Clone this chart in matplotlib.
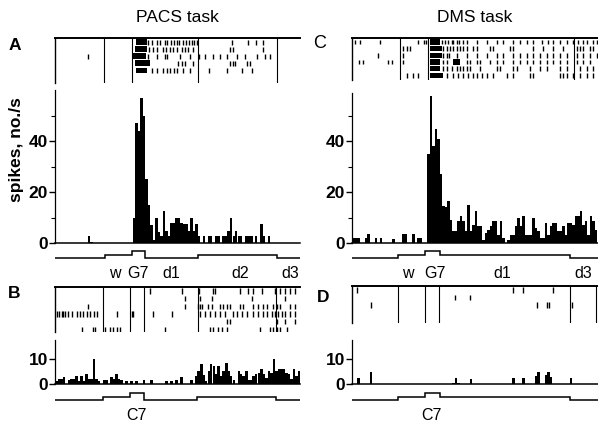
import matplotlib
matplotlib.use('Agg')
import matplotlib.pyplot as plt
import numpy as np

plt.rcParams['font.family'] = ['Liberation Sans', 'DejaVu Sans']

# ------------------------------------------------------------
# data (time in s from left edge of each panel, bins of 0.1 s)
# ------------------------------------------------------------
BIN = 0.1

pacs_g7_rate = [0, 0, 0, 0, 0, 0, 0, 0, 0, 0,
                0, 0, 0, 2.6, 0.5, 0, 0, 0, 0, 0,
                0, 0, 0, 0, 0, 0, 0, 0, 0, 0,
                0, 10, 47, 44, 57, 50, 25, 15, 7, 1,
                9.8, 4.5, 2.6, 12.4, 4.6, 2.6, 7.8, 7.8, 10, 10,
                7.8, 7.6, 7.6, 4.6, 10, 4.6, 7.4, 2.6, 0, 2.6,
                0, 2.6, 2.6, 0, 2.6, 2.6, 0, 2.6, 2.6, 4.8,
                10, 2.6, 4.8, 2.6, 2.6, 0, 2.6, 2.6, 2.6, 0,
                2.6, 0, 7.4, 2.6, 0, 2.6, 0, 0, 0, 0,
                0, 0, 0, 0, 0, 0, 0, 0]

dms_g7_rate = [2, 2, 2, 0, 0, 2, 3.7, 0, 0, 2,
               0, 2, 0, 0, 0, 0, 1.7, 0, 0, 0,
               3.7, 3.7, 0, 0, 3.7, 0, 2, 2, 0, 0,
               35, 58, 38, 45, 41, 27, 14.4, 14, 16.6, 9,
               4.6, 4.6, 8.5, 10.5, 8.5, 4.6, 14.8, 4.6, 7, 12.4,
               6.5, 6.5, 1.3, 4, 5, 6.5, 8.5, 8.5, 3.3, 8.5,
               2, 0, 1.3, 3.3, 3.3, 6.5, 9.8, 6.5, 10.5, 3.3,
               3.3, 3.3, 9.8, 6, 4.6, 2, 2, 8, 3.3, 6.5,
               8, 8, 4.6, 4.6, 6.5, 3.3, 8, 8, 7.2, 10.5,
               10.5, 12.4, 7, 8.5, 3.3, 10.5, 8.5, 5]

pacs_c7_rate = [1.3, 2, 2, 2.6, 0, 1.5, 2, 2, 3, 1,
                3.2, 1, 4, 2, 2, 10, 2, 1.3, 0, 1.5,
                1.5, 0, 2.6, 2, 4, 2, 1.5, 0, 1.3, 0,
                1.3, 0, 1.3, 0, 0, 1.5, 0, 0, 1.5, 0,
                0, 0, 0, 0, 1.3, 0, 1.3, 0, 1.5, 0,
                2.6, 0, 0, 0, 1.5, 0, 3, 5, 8, 3.5,
                1.3, 5, 8, 7, 4, 7, 3, 5, 8.3, 5,
                3, 1.5, 0, 5, 4, 3, 5, 1.5, 1.5, 3,
                4, 4.5, 6, 4, 2.5, 5, 4.5, 10, 5, 6,
                6, 6, 4.5, 4, 2, 6, 3, 5]

dms_c7_rate = [0, 0, 2.2, 0, 0, 0, 0, 4.7, 0, 0,
               0, 0, 0, 0, 0, 0, 0, 0, 0, 0,
               0, 0, 0, 0, 0, 0, 0, 0, 0, 0,
               0, 0, 0, 0, 0, 0, 0, 0, 0, 0,
               0.5, 2.4, 0.5, 0, 0, 0, 0, 2, 0, 0,
               0, 0, 0, 0, 0, 0, 0, 0, 0, 0,
               0, 0, 0, 0, 2.4, 0, 0, 0, 2.4, 0,
               0, 0, 0, 3, 4.7, 0, 0, 3.4, 4.7, 2.6,
               0, 0, 0, 0, 0, 0, 0, 2.4, 0, 0,
               0, 0, 0, 0, 0, 0, 0, 0]

# raster spike times per trial
pacs_g7_spikes = [
    [3.73, 3.87, 4.07, 4.2, 4.4, 4.49, 4.63, 4.76, 4.87, 4.97, 5.11, 5.24, 5.37, 5.47, 5.56, 5.67, 7.07, 7.73, 8.04, 8.33],
    [3.77, 3.93, 4.07, 4.31, 4.44, 4.6, 4.73, 4.87, 5.07, 5.2, 5.33, 5.51, 7.0, 7.11, 8.33],
    [1.33, 3.73, 4.07, 4.4, 4.49, 5.0, 5.4, 5.77, 6.0, 6.33, 6.6, 6.87, 7.27, 7.6, 8.07, 8.4, 8.6],
    [4.93, 5.07, 5.2, 5.53, 7.0, 7.11, 7.2, 7.67, 7.8],
    [3.87, 4.07, 4.33, 4.47, 4.6, 4.76, 4.87, 5.13, 5.4, 6.17, 6.87, 7.47, 7.87],
]
pacs_g7_bursts = [(0, 3.24, 3.67), (1, 3.2, 3.67), (2, 3.13, 3.64), (3, 3.2, 3.8), (4, 3.24, 3.69)]
pacs_g7_marks = [1.96, 3.08, 5.72, 8.88]

dms_g7_spikes = [
    [0.11, 0.32, 1.12, 2.65, 2.88, 2.96, 3.59, 3.72, 3.83, 3.99, 4.05, 4.19, 4.29, 4.45, 4.59, 4.99,
     5.39, 5.79, 6.05, 6.45, 6.72, 6.99, 7.25, 7.59, 7.85, 8.05, 8.32, 8.59, 8.85, 9.05, 9.23, 9.39, 9.65, 9.79],
    [2.05, 2.19, 2.32, 3.65, 3.79, 3.92, 4.05, 4.19, 4.32, 4.45, 4.59, 4.85, 4.99, 5.52, 5.65, 6.32, 6.45,
     7.25, 7.65, 8.05, 8.45, 8.99, 9.12, 9.25, 9.52, 9.65],
    [1.05, 2.05, 3.65, 3.79, 3.89, 4.19, 4.59, 4.99, 5.39, 5.79, 6.05, 6.45, 6.72, 6.99, 7.25, 7.52, 7.79,
     8.05, 8.32, 8.59, 8.99, 9.25, 9.52, 9.79],
    [0.29, 0.43, 1.45, 1.59, 2.05, 3.65, 3.79, 4.59, 4.72, 4.99, 5.12, 5.52, 5.79, 6.05, 6.45, 6.72, 6.99,
     7.25, 7.52, 7.79, 8.05, 8.32, 8.59, 8.99, 9.25, 9.52],
    [3.65, 3.79, 3.99, 4.19, 4.32, 4.45, 4.59, 4.72, 5.12, 5.79, 5.92, 6.45, 6.59, 7.12, 7.52, 7.79, 8.32,
     8.59, 9.12, 9.39, 9.65],
    [2.19, 2.45, 2.65, 3.79, 4.05, 4.25, 4.45, 4.65, 4.85, 4.99, 5.19, 5.39, 5.65, 6.19, 6.45, 7.12, 7.25,
     8.32, 8.45, 8.59, 8.85, 9.12, 9.39, 9.65],
]
dms_g7_bursts = [(0, 3.12, 3.52), (1, 3.12, 3.59), (2, 3.12, 3.59), (3, 3.12, 3.52), (3, 4.05, 4.32),
                 (4, 3.12, 3.52), (5, 3.12, 3.65)]
dms_g7_marks = [1.92, 3.04, 8.88]

pacs_c7_spikes = [
    [3.8, 5.07, 5.77, 6.33, 6.4, 7.4, 7.73, 7.93, 8.27, 8.8, 9.0, 9.2, 9.4, 9.6],
    [5.2, 5.8, 6.27, 7.87, 9.2],
    [1.33, 5.2, 5.73, 5.8, 5.87, 6.13, 6.27, 6.6, 6.73, 6.87, 7.0, 7.4, 7.53, 7.93, 8.13, 8.33, 8.47,
     8.73, 8.87, 9.0, 9.4, 9.6],
    [0.07, 0.17, 0.27, 0.33, 0.4, 0.53, 0.67, 0.87, 1.0, 1.13, 1.27, 1.4, 1.56, 1.67, 2.47, 3.07, 3.13,
     3.93, 4.67, 5.8, 6.0, 6.2, 6.4, 6.6, 6.8, 7.13, 7.27, 7.47, 7.67, 7.93, 8.13, 8.33, 8.47, 8.67,
     8.8, 8.93, 9.07, 9.2, 9.4, 9.6],
    [6.87, 7.0, 8.87, 9.2, 9.6],
    [1.07, 1.53, 1.6, 2.0, 2.2, 2.33, 2.47, 2.6, 4.4, 6.2, 6.33, 6.53, 6.67, 6.87, 8.2, 8.6, 8.73,
     8.87, 9.0, 9.27],
]
pacs_c7_marks = [1.91, 3.0, 3.56, 5.73, 8.84]

dms_c7_spikes = [
    [0.19, 6.45, 6.85, 8.05],
    [4.12, 4.72],
    [0.75, 7.39, 7.79, 7.89, 8.79],
    [],
    [],
]
dms_c7_marks = [1.85, 2.92, 3.49, 8.72, 9.76]

# stimulus / delay traces: edges (s) and levels (0 low, 1 raised, 2 cue)
pacs_g7_edges = [0, 2.0, 3.08, 3.6, 5.72, 8.88, 9.8]
pacs_g7_levels = [0, 1, 2, 0, 1, 0]
dms_g7_edges = [0, 1.84, 2.92, 3.52, 8.72, 9.84]
dms_g7_levels = [0, 1, 2, 1, 0]
pacs_c7_edges = [0, 1.92, 3.0, 3.56, 5.68, 8.84, 9.8]
pacs_c7_levels = [0, 1, 2, 0, 1, 0]
dms_c7_edges = [0, 1.84, 2.92, 3.52, 8.72, 9.84]
dms_c7_levels = [0, 1, 2, 1, 0]

pacs_g7_labels = [('w', 2.4), ('G7', 3.3), ('d1', 4.64), ('d2', 7.4), ('d3', 9.4)]
dms_g7_labels = [('w', 2.22), ('G7', 3.3), ('d1', 5.99), ('d3', 9.24)]
pacs_c7_labels = [('C7', 3.27)]
dms_c7_labels = [('C7', 3.19)]

# ------------------------------------------------------------
W, H = 598, 423
fig = plt.figure(figsize=(W / 100, H / 100), dpi=100)


def px_axes(x0, y0, x1, y1):
    return fig.add_axes([x0 / W, 1 - y1 / H, (x1 - x0) / W, (y1 - y0) / H])


def draw_raster(ax, spikes, bursts, marks, tmax, ylim):
    rows = [i for i, s in enumerate(spikes) if len(s) > 0]
    ax.eventplot([spikes[i] for i in rows], lineoffsets=rows, linelengths=0.7,
                 linewidths=1.0, colors='black')
    for row, t0, t1 in bursts:
        ax.barh(row, t1 - t0, left=t0, height=0.8, color='black', linewidth=0)
    for m in marks:
        ax.axvline(m, color='black', lw=0.8)
    ax.set_xlim(0, tmax)
    ax.set_ylim(*ylim)
    for s in ['bottom', 'right']:
        ax.spines[s].set_visible(False)
    ax.spines['top'].set_linewidth(1.4)
    ax.spines['left'].set_linewidth(1.0)
    ax.set_xticks([])
    ax.set_yticks([])


def draw_hist(ax, rate, tmax, ymax, major, minor):
    t = np.arange(len(rate)) * BIN
    ax.bar(t, rate, width=BIN, align='edge', color='black', linewidth=0)
    ax.set_xlim(0, tmax)
    ax.set_ylim(0, ymax)
    for s in ['top', 'right']:
        ax.spines[s].set_visible(False)
    ax.spines['left'].set_linewidth(0.9)
    ax.spines['bottom'].set_linewidth(1.1)
    ax.set_xticks([])
    ax.set_yticks(major)
    ax.set_yticks(minor, minor=True)
    ax.tick_params(axis='y', which='major', direction='out', length=4, width=1,
                   labelsize=12.5, pad=1)
    ax.tick_params(axis='y', which='minor', direction='out', length=3, width=0.8)
    for lab in ax.get_yticklabels():
        lab.set_fontweight('bold')


def draw_events(ax, edges, levels, labels, tmax):
    ax.stairs(levels, edges, baseline=None, color='black', lw=1.1)
    ax.set_xlim(0, tmax)
    ax.set_ylim(-0.68, 2.52)
    ax.axis('off')
    for txt, x in labels:
        ax.text(x, -1.05, txt, transform=ax.get_xaxis_transform(), ha='center',
                va='center', fontsize=11.5)


# panel A (PACS, G7)
draw_raster(px_axes(55, 38, 300, 83), pacs_g7_spikes, pacs_g7_bursts, pacs_g7_marks, 9.8, (5.8, -0.6))
draw_hist(px_axes(55, 90, 300, 243), pacs_g7_rate, 9.8, 60, [0, 20, 40], [10, 30, 50])
draw_events(px_axes(55, 249, 300, 261), pacs_g7_edges, pacs_g7_levels, pacs_g7_labels, 9.8)

# panel C (DMS, G7)
draw_raster(px_axes(352, 38, 598, 80), dms_g7_spikes, dms_g7_bursts, dms_g7_marks, 9.84, (5.7, -0.6))
draw_hist(px_axes(352, 93, 598, 243), dms_g7_rate, 9.84, 59, [0, 20, 40], [10, 30, 50])
draw_events(px_axes(352, 249, 598, 261), dms_g7_edges, dms_g7_levels, dms_g7_labels, 9.84)

# panel B (PACS, C7)
draw_raster(px_axes(55, 287, 300, 332), pacs_c7_spikes, [], pacs_c7_marks, 9.8, (5.35, -0.5))
draw_hist(px_axes(55, 340, 300, 384), pacs_c7_rate, 9.8, 17.5, [0, 10], [])
draw_events(px_axes(55, 391, 300, 403), pacs_c7_edges, pacs_c7_levels, pacs_c7_labels, 9.8)

# panel D (DMS, C7)
draw_raster(px_axes(352, 286, 598, 323), dms_c7_spikes, [], dms_c7_marks, 9.84, (4.4, -0.55))
draw_hist(px_axes(352, 340, 598, 384), dms_c7_rate, 9.84, 17.5, [0, 10], [])
draw_events(px_axes(352, 391, 598, 403), dms_c7_edges, dms_c7_levels, dms_c7_labels, 9.84)

# titles, panel letters, y label
fig.text(177 / W, 1 - 17 / H, 'PACS task', ha='center', va='center', fontsize=12.5)
fig.text(475 / W, 1 - 17 / H, 'DMS task', ha='center', va='center', fontsize=12.5)
fig.text(15 / W, 1 - 45 / H, 'A', ha='center', va='center', fontsize=12.5, fontweight='bold')
fig.text(320 / W, 1 - 44 / H, 'C', ha='center', va='center', fontsize=13)
fig.text(14 / W, 1 - 294 / H, 'B', ha='center', va='center', fontsize=12.5, fontweight='bold')
fig.text(323 / W, 1 - 297 / H, 'D', ha='center', va='center', fontsize=12.5, fontweight='bold')
fig.text(17 / W, 1 - 150 / H, 'spikes, no./s', rotation=90, ha='center', va='center',
         fontsize=12.5, fontweight='bold')

fig.savefig('out.png', dpi=100)
